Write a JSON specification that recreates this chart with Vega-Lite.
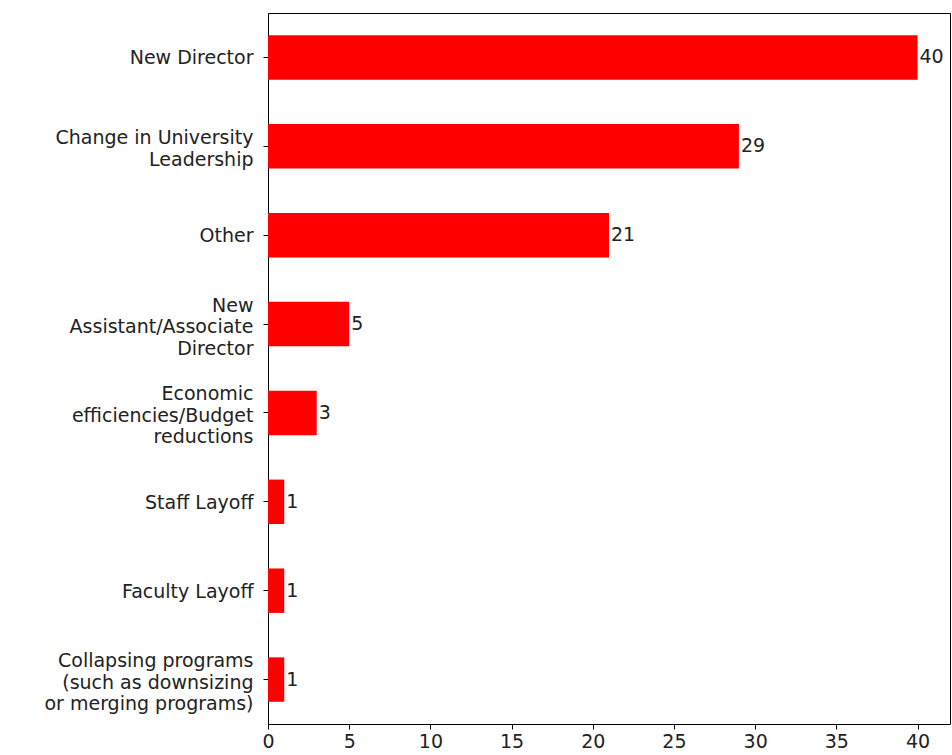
{
  "$schema": "https://vega.github.io/schema/vega-lite/v6.json",
  "width": 682,
  "height": 711,
  "autosize": {"type": "none"},
  "padding": {"left": 268, "top": 13, "right": 2, "bottom": 31},
  "background": "white",
  "config": {
    "view": {"stroke": "black", "strokeWidth": 1},
    "font": "DejaVu Sans",
    "axis": {"grid": false, "domain": false, "tickColor": "black", "tickSize": 5, "labelColor": "#222222", "labelFont": "DejaVu Sans"}
  },
  "data": {
    "values": [
      {"reason": "New Director", "count": 40},
      {"reason": "Change in University|Leadership", "count": 29},
      {"reason": "Other", "count": 21},
      {"reason": "New|Assistant/Associate|Director", "count": 5},
      {"reason": "Economic|efficiencies/Budget|reductions", "count": 3},
      {"reason": "Staff Layoff", "count": 1},
      {"reason": "Faculty Layoff", "count": 1},
      {"reason": "Collapsing programs|(such as downsizing|or merging programs)", "count": 1}
    ]
  },
  "encoding": {
    "y": {
      "field": "reason",
      "type": "nominal",
      "sort": null,
      "scale": {"paddingInner": 0.5, "paddingOuter": 0.25},
      "axis": {
        "title": null,
        "labelExpr": "split(datum.value, '|')",
        "labelLimit": 0,
        "labelPadding": 10,
        "labelFontSize": 19,
        "labelLineHeight": 21.5,
        "labelOffset": {
          "condition": [
            {"test": "length(split(datum.value, '|')) == 3", "value": -18.5},
            {"test": "length(split(datum.value, '|')) == 2", "value": -8.25}
          ],
          "value": 1
        }
      }
    },
    "x": {
      "field": "count",
      "type": "quantitative",
      "scale": {"domain": [0, 42], "nice": false, "zero": true},
      "axis": {"title": null, "values": [0, 5, 10, 15, 20, 25, 30, 35, 40], "labelPadding": 3, "labelFontSize": 19, "labelFlush": false}
    }
  },
  "layer": [
    {"mark": {"type": "bar", "color": "#ff0000"}},
    {
      "mark": {"type": "text", "align": "left", "baseline": "middle", "dx": 2, "fontSize": 19, "color": "#222222"},
      "encoding": {"text": {"field": "count", "type": "quantitative"}}
    }
  ]
}
